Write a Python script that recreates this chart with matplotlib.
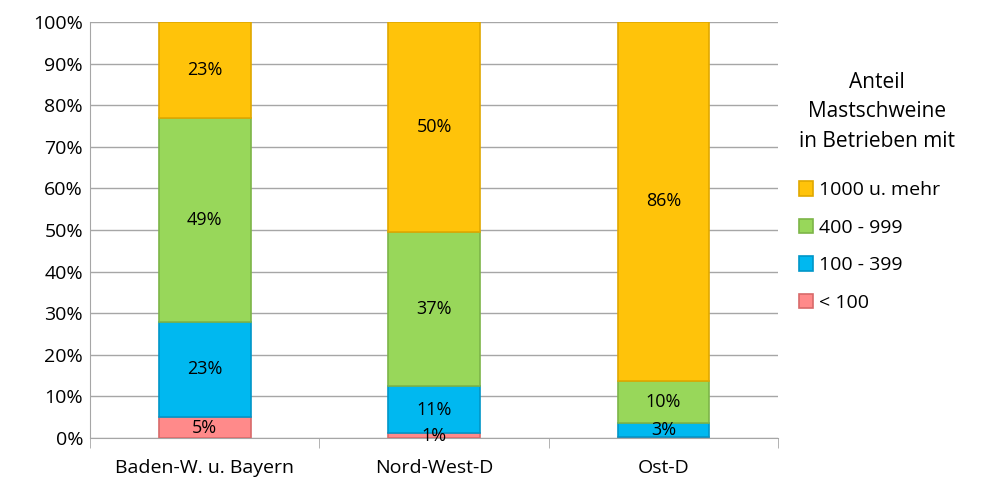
import numpy as np
import matplotlib.pyplot as plt

plt.rcParams['font.family'] = ['Open Sans', 'DejaVu Sans']

regions = ["Baden-W. u. Bayern", "Nord-West-D", "Ost-D"]
classes = ["< 100", "100 - 399", "400 - 999", "1000 u. mehr"]
# share in percent, per class (bottom to top)
lt100 = [5.0, 1.2, 0.3]
s100_399 = [23.0, 11.3, 3.2]
s400_999 = [49.0, 37.0, 10.2]
s1000 = [23.0, 50.5, 86.3]
shares = [lt100, s100_399, s400_999, s1000]

colors = ["#FF8A8A", "#00B8F0", "#98D75A", "#FFC30A"]
edges = ["#D86A6A", "#0096C8", "#7DB548", "#E0A800"]

fig = plt.figure(figsize=(9.85, 4.79), dpi=100)
ax = fig.add_axes([0.0914, 0.0856, 0.6986, 0.8685])

x = np.arange(len(regions))
bottom = np.zeros(len(regions))
handles = []
for vals, c, ec, lab in zip(shares, colors, edges, classes):
    vals = np.array(vals)
    b = ax.bar(x, vals, width=0.4, bottom=bottom, color=c, edgecolor=ec,
               linewidth=1.2, label=lab, zorder=3)
    handles.append(b)
    for xi, v, bo in zip(x, vals, bottom):
        if v >= 0.5:
            ax.text(xi, bo + v / 2, f"{v:.0f}%", ha='center', va='center',
                    fontsize=13, color='black', zorder=4)
    bottom += vals

ax.set_xlim(-0.5, 2.5)
ax.set_ylim(0, 100)
ax.set_yticks(np.arange(0, 101, 10))
ax.set_yticklabels([f"{t}%" for t in range(0, 101, 10)], fontsize=14)
ax.yaxis.grid(True, color='#A6A6A6', linewidth=1, zorder=0)
ax.tick_params(axis='y', length=0, pad=5)

ax.set_xticks(x)
ax.set_xticklabels(regions, fontsize=14)
ax.set_xticks([-0.5, 0.5, 1.5, 2.5], minor=True)
ax.tick_params(axis='x', which='major', length=0, pad=15)
ax.tick_params(axis='x', which='minor', length=7, color='#A6A6A6')

for s in ['top', 'right']:
    ax.spines[s].set_visible(False)
ax.spines['left'].set_color('#A6A6A6')
ax.spines['bottom'].set_color('#A6A6A6')

leg = fig.legend(handles[::-1], classes[::-1], title="Anteil\nMastschweine\nin Betrieben mit",
                 loc='upper left', bbox_to_anchor=(0.797, 0.879), frameon=False,
                 fontsize=14, title_fontsize=15, handlelength=0.75, handleheight=0.75,
                 handletextpad=0.3, labelspacing=1.0, borderpad=0.2)
leg._legend_box.align = 'left'
leg._legend_box.sep = 21
leg.get_title().set_multialignment('center')
leg.get_title().set_linespacing(1.55)

fig.savefig("out.png", dpi=100)
